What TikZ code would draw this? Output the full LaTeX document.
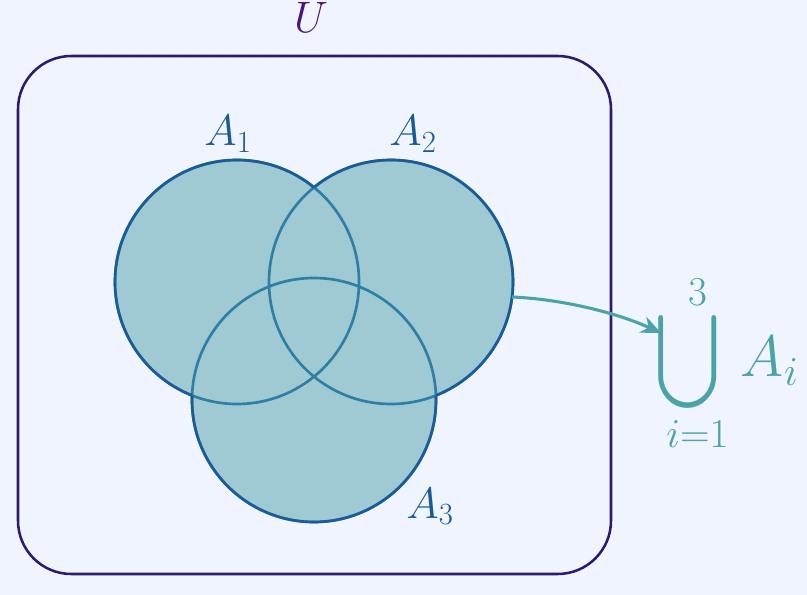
\RequirePackage{fix-cm}
\documentclass[tikz,border=0pt]{standalone}
\usepackage{exscale}
\usepackage{graphicx}
\usetikzlibrary{arrows.meta}
\definecolor{bg}{HTML}{F0F4FE}
\definecolor{frame}{HTML}{2A1A70}
\definecolor{ucol}{HTML}{4B1482}
\definecolor{lab}{HTML}{1A5A96}
\definecolor{fillc}{HTML}{A0CAD3}
\definecolor{outc}{HTML}{1B5C98}
\definecolor{inc}{HTML}{2E7FA6}
\definecolor{tealc}{HTML}{4AA3A8}
\newcommand{\bigcupscaled}{\mathop{\vcenter{\hbox{\scalebox{1.75}[2.0]{$\displaystyle\bigcup$}}}}}
\newcommand{\limbox}[2]{\hbox to 0pt{\hss\kern15pt\raisebox{#1}{$\scriptstyle #2$}\hss}}
\tikzset{
  frameline/.style={draw=frame, line width=1.9pt, rounded corners=40pt},
  outerline/.style={draw=outc, line width=2pt},
  innerline/.style={draw=inc, line width=2pt},
  setlabel/.style={text=lab, inner sep=0pt, anchor=base, font=\fontsize{33}{40}\selectfont},
  arrowline/.style={draw=tealc, line width=2.3pt, -{Stealth[length=15pt,width=13pt]}}
}
\begin{document}
\begin{tikzpicture}[x=0.75pt,y=-0.75pt]
\fill[bg] (0,0) rectangle (807,595);
\useasboundingbox (0,0) rectangle (807,595);
\coordinate (c1) at (237,282);
\coordinate (c2) at (391,282);
\coordinate (c3) at (314,400);
% universe
\draw[frameline] (18,56) rectangle (611,574);
\node[text=ucol, inner sep=0pt, anchor=base, font=\fontsize{33}{40}\selectfont] (U) at (311,33) {$U$};
% fills
\fill[fillc] (c1) circle (122) (c2) circle (122) (c3) circle (122);
% inner strokes
\draw[innerline] (c1) circle (122) (c2) circle (122) (c3) circle (122);
% outer strokes
\begin{scope}[even odd rule]
\clip (-10,-10) rectangle (820,610) (c2) circle (122);
\clip (-10,-10) rectangle (820,610) (c3) circle (122);
\draw[outerline] (c1) circle (122);
\end{scope}
\begin{scope}[even odd rule]
\clip (-10,-10) rectangle (820,610) (c1) circle (122);
\clip (-10,-10) rectangle (820,610) (c3) circle (122);
\draw[outerline] (c2) circle (122);
\end{scope}
\begin{scope}[even odd rule]
\clip (-10,-10) rectangle (820,610) (c1) circle (122);
\clip (-10,-10) rectangle (820,610) (c2) circle (122);
\draw[outerline] (c3) circle (122);
\end{scope}
% labels
\node[setlabel] (A1) at (228,146) {$A_1$};
\node[setlabel] (A2) at (413,146) {$A_2$};
\node[setlabel] (A3) at (430,518) {$A_3$};
% union
\node[text=tealc, inner sep=0pt, anchor=base west, font=\fontsize{44}{50}\selectfont] (un) at (655,377) {$\displaystyle\bigcupscaled_{\limbox{0pt}{i=1}}^{\limbox{-4.5pt}{3}}\mkern3.5mu A_i$};
\coordinate (s) at (512,297);
\coordinate (t) at (661,333);
\draw[arrowline] (s) .. controls (560,299) and (615,312) .. (t);
\end{tikzpicture}
\end{document}
